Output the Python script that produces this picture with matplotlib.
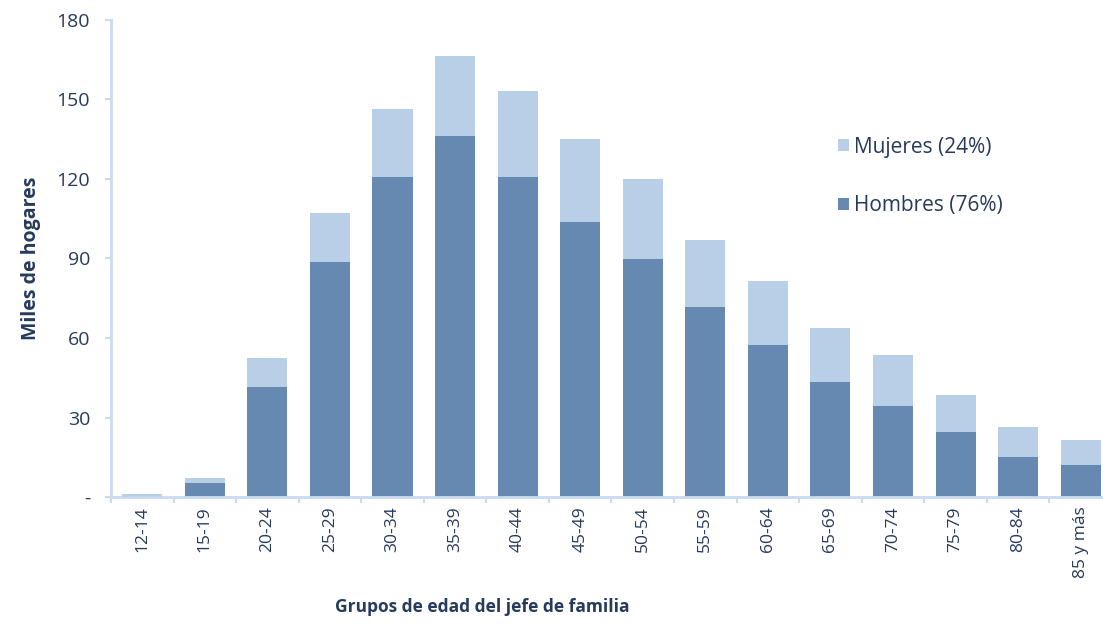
import numpy as np
import matplotlib.pyplot as plt
from matplotlib.ticker import FixedLocator, NullFormatter

grupos = ["12-14", "15-19", "20-24", "25-29", "30-34", "35-39", "40-44", "45-49",
          "50-54", "55-59", "60-64", "65-69", "70-74", "75-79", "80-84", "85 y más"]
hombres = [0.3, 5.2, 41.5, 88.7, 120.8, 136.2, 120.8, 103.8,
           89.8, 71.7, 57.4, 43.4, 34.3, 24.5, 15.0, 12.0]
mujeres = [1.0, 2.0, 11.0, 18.3, 25.6, 30.2, 32.4, 31.2,
           30.2, 25.3, 24.1, 20.4, 19.3, 14.0, 11.4, 9.5]
yticks = [0, 30, 60, 90, 120, 150, 180]
ytick_labels = ["-", "30", "60", "90", "120", "150", "180"]

c_hombres = "#6589b0"
c_mujeres = "#b9cfe8"
c_eje = "#c9dbef"
c_texto = "#263a5c"

plt.rcParams["font.family"] = ["Open Sans", "DejaVu Sans"]

fig = plt.figure(figsize=(11.03, 6.24), dpi=100)
# el eje x sigue un poco más allá del borde derecho de la figura
ax = fig.add_axes([0.1006, 0.2035, 0.9075, 0.7645])

x = np.arange(len(grupos))
ax.bar(x, hombres, width=0.64, color=c_hombres, label="Hombres (76%)", zorder=2)
ax.bar(x, mujeres, width=0.64, bottom=hombres, color=c_mujeres,
       label="Mujeres (24%)", zorder=2)

ax.set_xlim(-0.5, len(grupos) - 0.5)
ax.set_ylim(0, 180)
ax.set_yticks(yticks)
ax.set_yticklabels(ytick_labels)

ax.set_xticks(x)
ax.set_xticklabels(grupos, rotation=90, fontsize=12.5, color=c_texto)
ax.tick_params(axis="x", which="major", length=0, pad=7)
ax.xaxis.set_minor_locator(FixedLocator(np.arange(-0.5, len(grupos), 1.0)))
ax.xaxis.set_minor_formatter(NullFormatter())
ax.tick_params(axis="x", which="minor", length=4, width=1.5, color=c_eje)
ax.tick_params(axis="y", length=4, width=1.5, color=c_eje, labelsize=14,
               labelcolor=c_texto, pad=11)

for s in ["top", "right"]:
    ax.spines[s].set_visible(False)
for s in ["left", "bottom"]:
    ax.spines[s].set_color(c_eje)
    ax.spines[s].set_linewidth(2)

ax.set_ylabel("Miles de hogares", fontsize=14, fontweight="bold", color=c_texto,
              labelpad=11)
fig.text(0.437, 0.027, "Grupos de edad del jefe de familia", fontsize=12.5,
         fontweight="bold", color=c_texto, ha="center", va="center")

handles, labels = ax.get_legend_handles_labels()
leg = ax.legend(handles[::-1], labels[::-1], loc="upper left",
                bbox_to_anchor=(0.708, 0.795), frameon=False, fontsize=15,
                handlelength=0.5, handleheight=0.5, handletextpad=0.25,
                labelspacing=1.8, labelcolor=c_texto)

fig.savefig("out.png", dpi=100)
